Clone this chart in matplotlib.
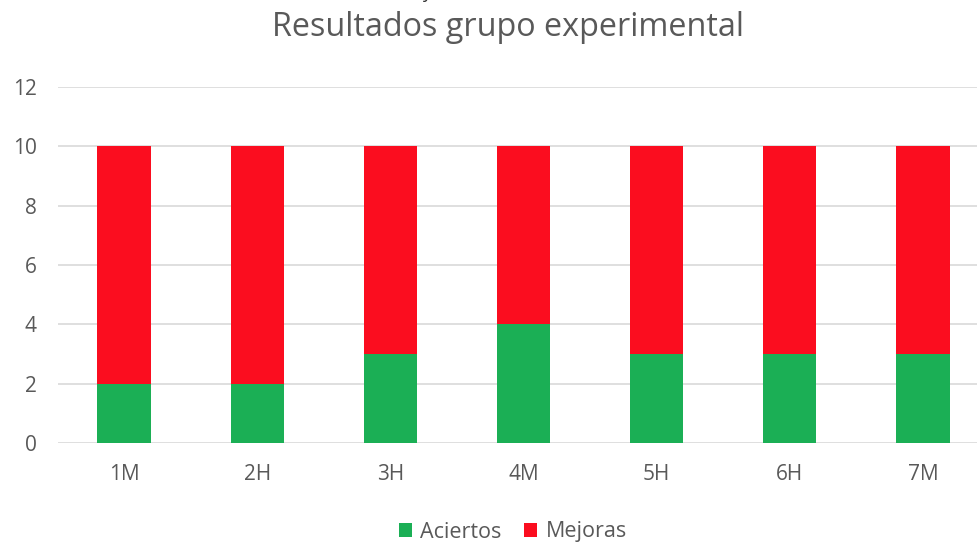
import matplotlib.pyplot as plt
import numpy as np

categories = ['1M', '2H', '3H', '4M', '5H', '6H', '7M']
aciertos = [2, 2, 3, 4, 3, 3, 3]
mejoras = [8, 8, 7, 6, 7, 7, 7]

plt.rcParams['font.family'] = ['Open Sans', 'DejaVu Sans']

fig = plt.figure(figsize=(9.77, 5.44), dpi=100)
# plot area runs a little past the right edge, as in the original crop
ax = fig.add_axes([57.5 / 977, 101 / 544, 932 / 977, 356 / 544])

x = np.arange(len(categories))
ax.bar(x, aciertos, width=0.4, color='#1BAF55', label='Aciertos', zorder=3)
ax.bar(x, mejoras, width=0.4, bottom=aciertos, color='#FB0D1F',
       label='Mejoras', zorder=3)

ax.set_xlim(-0.5, len(categories) - 0.5)
ax.set_ylim(0, 12)
ax.set_yticks(range(0, 13, 2))
ax.set_xticks(x)
ax.set_xticklabels(categories)
ax.grid(axis='y', color='#d9d9d9', linewidth=1.2, zorder=0)
for s in ax.spines.values():
    s.set_visible(False)
ax.tick_params(length=0, labelsize=15, colors='#595959')
ax.tick_params(axis='y', pad=15)
ax.tick_params(axis='x', pad=15)

fig.text(0.52, 0.95, 'Resultados grupo experimental', ha='center', va='center',
         fontsize=23.3, color='#595959')
# descender of a line cut off above the chart
fig.text(427 / 977, 1 + 2 / 544, 'y', ha='center', va='baseline',
         fontsize=13, color='#333333')

ax.legend(loc='center', bbox_to_anchor=(513 / 977, 12 / 544),
          bbox_transform=fig.transFigure, ncol=2, frameon=False,
          fontsize=15.5, handlelength=0.6, handleheight=0.6, handletextpad=0.4,
          columnspacing=1.05, labelcolor='#595959')

fig.savefig('out.png', dpi=100, facecolor='white')
